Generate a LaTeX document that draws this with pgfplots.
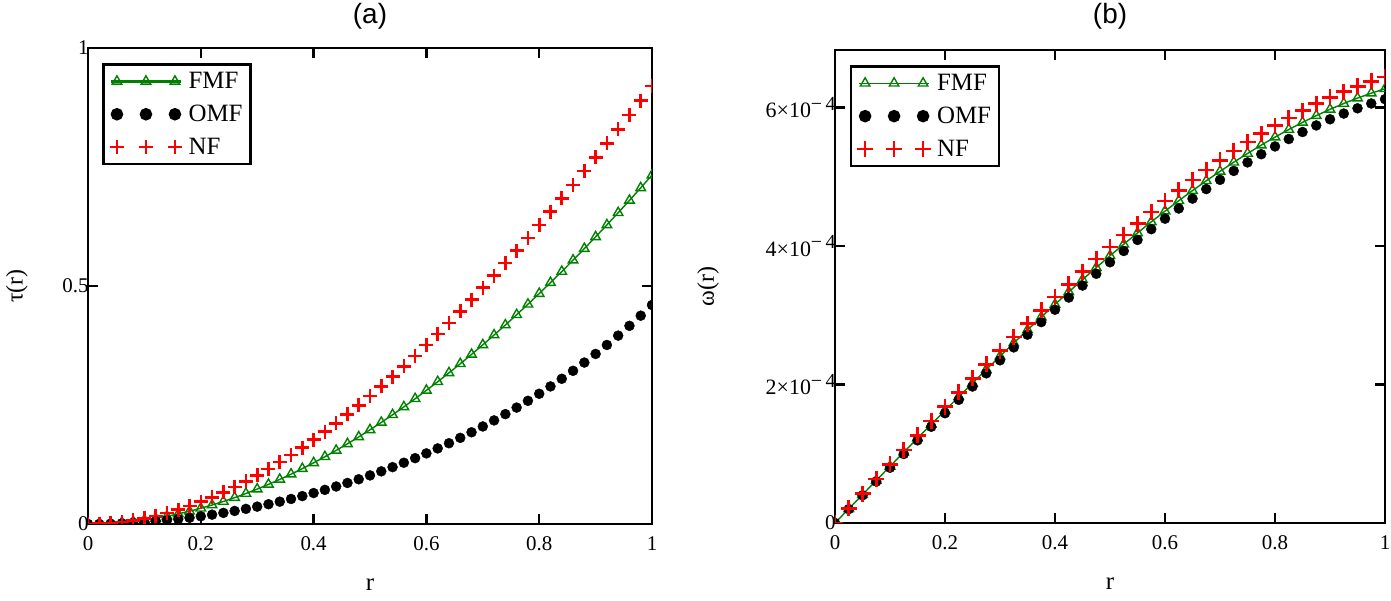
\documentclass[border=0pt]{standalone}
\usepackage{fontspec}
\setmainfont{Liberation Serif}
\setsansfont{Liberation Sans}
\usepackage{pgfplots}
\pgfplotsset{compat=1.18}

\definecolor{fmfgreen}{RGB}{0,128,0}
\newcommand{\sci}[1]{{\fontsize{22}{25}\selectfont #1×10}\raisebox{0.8ex}{\fontsize{20}{22}\selectfont −\,4}}

\pgfplotsset{
  panel/.style={
    scale only axis, clip marker paths=true,
    xmin=0, xmax=1, xtick={0,0.2,0.4,0.6,0.8,1},
    axis line style={line width=2.5bp},
    every tick/.style={line width=2.5bp, black},
    major tick length=10bp,
    /pgf/number format/assume math mode=true,
    tick label style={font=\fontsize{21}{24}\selectfont},
    xticklabel style={yshift=-9bp},
    yticklabel style={xshift=4bp},
    every axis x label/.style={at={(axis description cs:0.5,0)}, anchor=center,
      yshift=-61bp, font=\fontsize{25}{29}\selectfont},
    legend style={anchor=north west, draw=black, line width=2.5bp,
      font=\fontsize{25}{28}\selectfont, row sep=11bp, column sep=4bp,
      inner xsep=6bp, inner ysep=6bp},
    legend cell align=left,
    legend image code/.code={\draw[#1, mark indices={2,3,4}] plot coordinates
      {(-6bp,0bp) (0bp,0bp) (29bp,0bp) (58bp,0bp) (64bp,0bp)};},
  },
  thicklegend/.style={legend image code/.code={\draw[##1, line width=3.2bp, mark indices={2,3,4}] plot coordinates
      {(-6bp,0bp) (0bp,0bp) (29bp,0bp) (58bp,0bp) (64bp,0bp)};}},
  fmf/.style={fmfgreen, line width=1.4bp, mark=triangle, mark size=5.5bp,
    mark options={solid, line width=1.4bp}},
  omf/.style={black, only marks, mark=*, mark size=5bp},
  nf/.style={red, only marks, mark=+, mark size=7bp, mark options={line width=2.6bp}},
}

\begin{document}
\begin{tikzpicture}
\useasboundingbox (0,0) rectangle (1391bp,601bp);

\node[font=\sffamily\fontsize{28}{32}\selectfont] at (370bp,585bp) {(a)};
\node[font=\sffamily\fontsize{28}{32}\selectfont] at (1110bp,585bp) {(b)};

% panel (a): tau(r)
\begin{axis}[panel, at={(88bp,77bp)}, anchor=south west,
  width=564bp, height=476bp,
  ymin=0, ymax=1, ytick={0,0.5,1},
  xlabel={r}, ylabel={τ(r)},
  every axis y label/.style={at={([xshift=-71bp]axis description cs:0,0.5)}, rotate=90, anchor=center,
    font=\fontsize{24}{28}\selectfont},
  legend style={at={(axis description cs:0.025,0.968)}},
]
\addplot[fmf, thicklegend] coordinates {
(0,0) (0.02,0.000339) (0.04,0.001353) (0.06,0.003035) (0.08,0.00538)
(0.10,0.008383) (0.12,0.012038) (0.14,0.016339) (0.16,0.021281) (0.18,0.026858)
(0.20,0.033064) (0.22,0.039894) (0.24,0.047343) (0.26,0.055404) (0.28,0.064072)
(0.30,0.073341) (0.32,0.083206) (0.34,0.093661) (0.36,0.104701) (0.38,0.11632)
(0.40,0.128512) (0.42,0.141272) (0.44,0.154594) (0.46,0.168472) (0.48,0.182901)
(0.50,0.197875) (0.52,0.213389) (0.54,0.229437) (0.56,0.246013) (0.58,0.263112)
(0.60,0.280728) (0.62,0.298856) (0.64,0.317489) (0.66,0.336623) (0.68,0.356252)
(0.70,0.376369) (0.72,0.39697) (0.74,0.418049) (0.76,0.4396) (0.78,0.461617)
(0.80,0.484096) (0.82,0.50703) (0.84,0.530414) (0.86,0.554241) (0.88,0.578508)
(0.90,0.603207) (0.92,0.628334) (0.94,0.653882) (0.96,0.679846) (0.98,0.706221)
(1.00,0.733)};
\addplot[omf] coordinates {
(0,0) (0.02,0.000162) (0.04,0.000648) (0.06,0.001458) (0.08,0.002592)
(0.10,0.00405) (0.12,0.005832) (0.14,0.007938) (0.16,0.010369) (0.18,0.013124)
(0.20,0.016204) (0.22,0.019608) (0.24,0.023339) (0.26,0.027395) (0.28,0.031779)
(0.30,0.03649) (0.32,0.041531) (0.34,0.046903) (0.36,0.052608) (0.38,0.058648)
(0.40,0.065025) (0.42,0.071744) (0.44,0.078807) (0.46,0.086219) (0.48,0.093985)
(0.50,0.102109) (0.52,0.110599) (0.54,0.119462) (0.56,0.128704) (0.58,0.138336)
(0.60,0.148366) (0.62,0.158806) (0.64,0.169668) (0.66,0.180964) (0.68,0.19271)
(0.70,0.204921) (0.72,0.217614) (0.74,0.230809) (0.76,0.244527) (0.78,0.258788)
(0.80,0.273618) (0.82,0.289042) (0.84,0.305089) (0.86,0.321789) (0.88,0.339174)
(0.90,0.357279) (0.92,0.376142) (0.94,0.395801) (0.96,0.4163) (0.98,0.437683)
(1.00,0.46)};
\addplot[nf] coordinates {
(0,0) (0.02,0.00049) (0.04,0.001948) (0.06,0.004361) (0.08,0.007713)
(0.10,0.01199) (0.12,0.017176) (0.14,0.023257) (0.16,0.030218) (0.18,0.038044)
(0.20,0.04672) (0.22,0.056231) (0.24,0.066563) (0.26,0.077699) (0.28,0.089627)
(0.30,0.10233) (0.32,0.115794) (0.34,0.130004) (0.36,0.144945) (0.38,0.160602)
(0.40,0.17696) (0.42,0.194005) (0.44,0.211721) (0.46,0.230094) (0.48,0.249109)
(0.50,0.26875) (0.52,0.289004) (0.54,0.309854) (0.56,0.331287) (0.58,0.353287)
(0.60,0.37584) (0.62,0.39893) (0.64,0.422543) (0.66,0.446664) (0.68,0.471278)
(0.70,0.49637) (0.72,0.521925) (0.74,0.547929) (0.76,0.574365) (0.78,0.601221)
(0.80,0.62848) (0.82,0.656128) (0.84,0.68415) (0.86,0.712531) (0.88,0.741256)
(0.90,0.77031) (0.92,0.799679) (0.94,0.829347) (0.96,0.8593) (0.98,0.889523)
(1.00,0.92)};
\legend{FMF, OMF, NF}
\end{axis}

% panel (b): omega(r), values in units of 1e-4
\begin{axis}[panel, at={(835bp,78bp)}, anchor=south west,
  width=550bp, height=473bp,
  ymin=0, ymax=6.83, ytick={0,2,4,6},
  yticklabels={0, \sci{2}, \sci{4}, \sci{6}},
  xlabel={r}, ylabel={ω(r)},
  every axis y label/.style={at={([xshift=-127bp]axis description cs:0,0.5)}, rotate=90, anchor=center,
    font=\fontsize{24}{28}\selectfont},
  legend style={at={(axis description cs:0.027,0.968)}},
]
\addplot[fmf] coordinates {
(0,0) (0.025,0.20497) (0.05,0.40976) (0.075,0.61419) (0.1,0.81807)
(0.125,1.02123) (0.15,1.22349) (0.175,1.42466) (0.2,1.62456) (0.225,1.82302)
(0.25,2.01984) (0.275,2.21486) (0.3,2.40789) (0.325,2.59875) (0.35,2.78725)
(0.375,2.97322) (0.4,3.15648) (0.425,3.33684) (0.45,3.51413) (0.475,3.68816)
(0.5,3.85875) (0.525,4.02572) (0.55,4.1889) (0.575,4.34809) (0.6,4.50312)
(0.625,4.65381) (0.65,4.79997) (0.675,4.94144) (0.7,5.07801) (0.725,5.20952)
(0.75,5.33578) (0.775,5.45662) (0.8,5.57184) (0.825,5.68128) (0.85,5.78474)
(0.875,5.88205) (0.9,5.97303) (0.925,6.0575) (0.95,6.13527) (0.975,6.20616)
(1,6.27)};
\addplot[omf] coordinates {
(0,0) (0.025,0.19997) (0.05,0.39977) (0.075,0.59921) (0.1,0.79812)
(0.125,0.99633) (0.15,1.19366) (0.175,1.38992) (0.2,1.58496) (0.225,1.77859)
(0.25,1.97063) (0.275,2.1609) (0.3,2.34924) (0.325,2.53546) (0.35,2.7194)
(0.375,2.90086) (0.4,3.07968) (0.425,3.25568) (0.45,3.42869) (0.475,3.59852)
(0.5,3.765) (0.525,3.92796) (0.55,4.08722) (0.575,4.24259) (0.6,4.39392)
(0.625,4.54102) (0.65,4.68371) (0.675,4.82181) (0.7,4.95516) (0.725,5.08357)
(0.75,5.20688) (0.775,5.32489) (0.8,5.43744) (0.825,5.54435) (0.85,5.64545)
(0.875,5.74055) (0.9,5.82948) (0.925,5.91207) (0.95,5.98814) (0.975,6.0575)
(1,6.12)};
\addplot[nf, mark size=8bp] coordinates {
(0,0) (0.025,0.21197) (0.05,0.42375) (0.075,0.63514) (0.1,0.84596)
(0.125,1.05602) (0.15,1.26512) (0.175,1.47307) (0.2,1.67968) (0.225,1.88476)
(0.25,2.08813) (0.275,2.28957) (0.3,2.48892) (0.325,2.68597) (0.35,2.88054)
(0.375,3.07242) (0.4,3.26144) (0.425,3.4474) (0.45,3.63011) (0.475,3.80937)
(0.5,3.985) (0.525,4.15681) (0.55,4.3246) (0.575,4.48818) (0.6,4.64736)
(0.625,4.80195) (0.65,4.95177) (0.675,5.0966) (0.7,5.23628) (0.725,5.3706)
(0.75,5.49938) (0.775,5.62241) (0.8,5.73952) (0.825,5.85051) (0.85,5.95519)
(0.875,6.05336) (0.9,6.14484) (0.925,6.22944) (0.95,6.30696) (0.975,6.37721)
(1,6.44)};
\legend{FMF, OMF, NF}
\end{axis}
\end{tikzpicture}
\end{document}
